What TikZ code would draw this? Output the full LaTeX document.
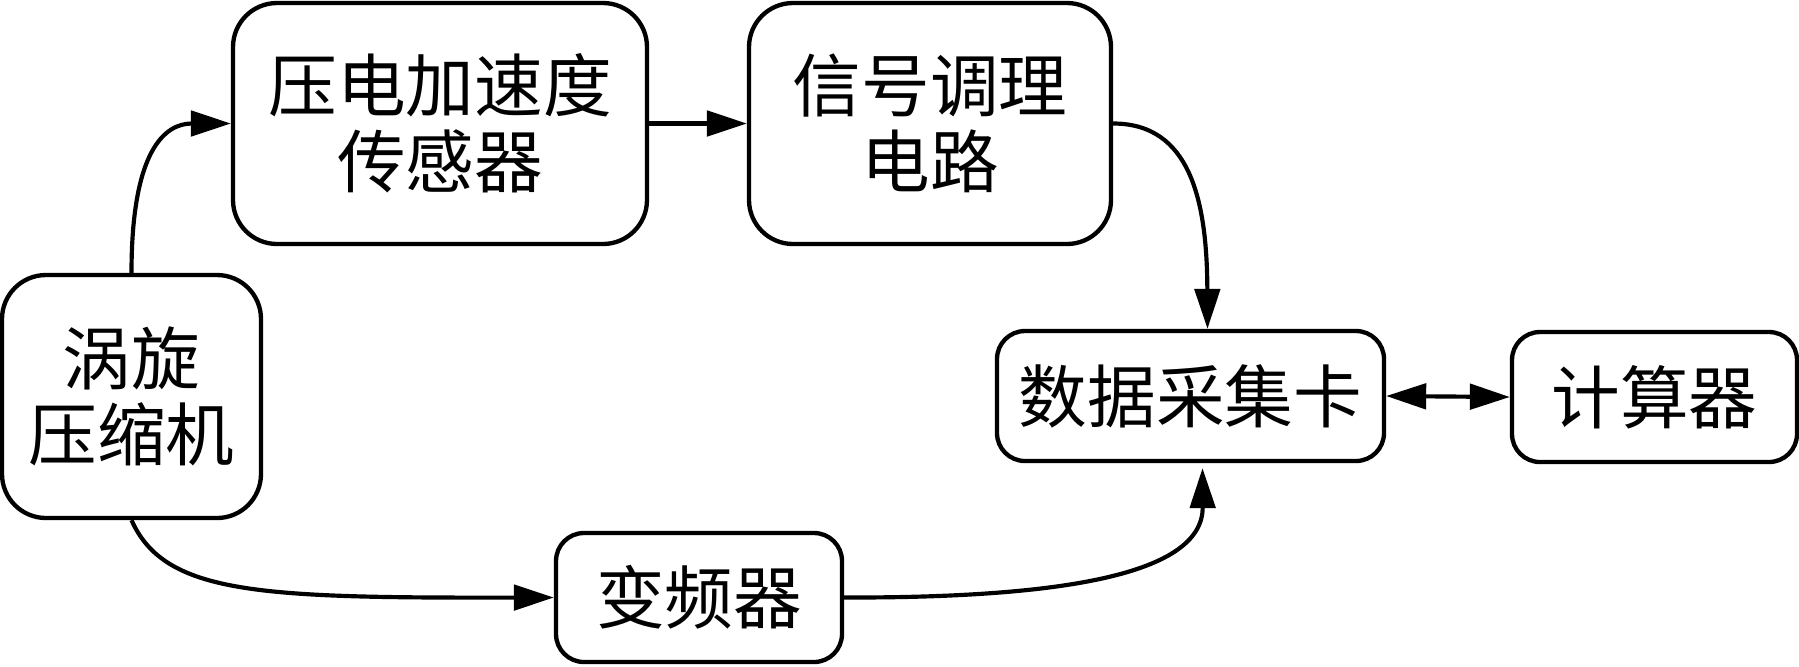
\documentclass[tikz,border=0pt]{standalone}
\usepackage{fontspec}
\newfontfamily\cjk{Noto Sans CJK SC}
\usetikzlibrary{arrows.meta,calc}
\begin{document}
\begin{tikzpicture}[x=0.3pt,y=-0.3pt,
 box/.style={draw, line width=1.3pt, align=center, inner sep=0pt,
   font=\cjk\fontsize{20.6pt}{22.8pt}\selectfont},
 bigbox/.style={box, rounded corners=13.2pt},
 smallbox/.style={box, rounded corners=8.4pt},
 tip/.tip={Triangle[length=12pt,width=7.6pt]},
 arr/.style={line width=1.25pt, -tip},
 darr/.style={line width=1.25pt, tip-tip},
 ]
\useasboundingbox (0,0) rectangle (1799,666);
\node[bigbox, minimum width=77.7pt, minimum height=72.9pt] (A) at (131.5,396.5) {涡旋\\压缩机};
\node[bigbox, minimum width=124.2pt, minimum height=72.3pt] (B) at (440,123.5) {压电加速度\\传感器};
\node[bigbox, minimum width=108.6pt, minimum height=72.3pt] (C) at (930,123.5) {信号调理\\电路};
\node[smallbox, minimum width=116.1pt, minimum height=39pt] (D) at (1190.5,396) {数据采集卡};
\node[smallbox, minimum width=85.5pt, minimum height=39pt] (E) at (1654.5,397) {计算器};
\node[smallbox, minimum width=85.8pt, minimum height=38.7pt] (F) at (699,597.5) {变频器};

\coordinate (Dtop) at ($(D.north)+(17,0)$);
\coordinate (Dbot) at ($(D.south)+(12,5)$);

\draw[arr] (A.north) .. controls (131.5,150) and (165,123.5) .. (B.west);
\draw[arr] (B.east) -- (C.west);
\draw[arr] (C.east) .. controls (1190,123.5) and (1207,200) .. (Dtop);
\draw[arr] (A.south) .. controls (165,595) and (260,598) .. (F.west);
\draw[arr] (F.east) .. controls (1060,598) and (1203,575) .. (Dbot);
\draw[darr] (D.east) -- (E.west);
\end{tikzpicture}
\end{document}
